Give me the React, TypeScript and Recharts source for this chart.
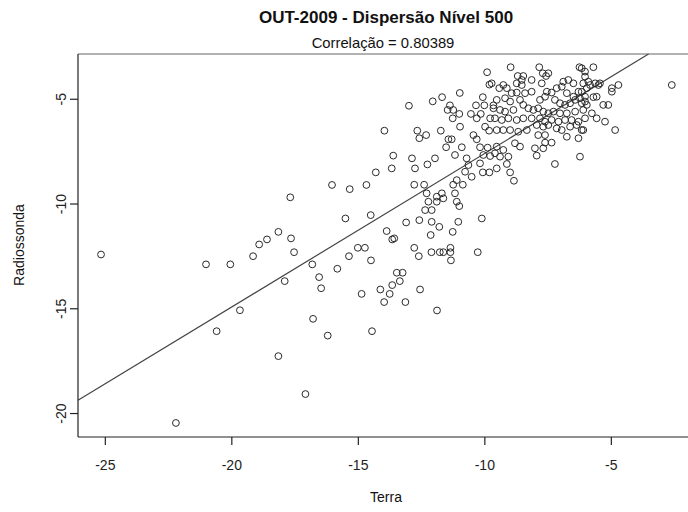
import React from 'react';
import { ScatterChart, Scatter, XAxis, YAxis, ReferenceLine } from 'recharts';

// Terra (x) and Radiossonda (y) readings, paired by index
const terra = [
  -8.98, -7.85, -7.71, -7.58, -7.49, -6.26, -6.04, -8.7, -8.48, -8.54, -8.74, -8.15, -7.75, -9.73, -9.27, -9.43,
  -9.13, -8.54, -6.9, -6.7, -6.5, -6.11, -5.97, -7.16, -6.96, -8.94, -8.74, -8.41, -8.15, -7.55, -7.36, -7.82,
  -7.62, -6.76, -6.5, -6.3, -9.53, -9.2, -9.0, -8.61, -8.48, -8.28, -8.08, -7.89, -7.23, -7.03, -6.83, -6.63,
  -6.43, -6.24, -6.04, -9.66, -9.4, -9.2, -8.87, -7.69, -7.49, -7.29, -7.03, -6.76, -6.43, -6.11, -9.6, -9.33,
  -9.07, -8.74, -8.48, -8.15, -7.82, -7.62, -7.36, -7.09, -6.83, -6.57, -6.3, -6.04, -9.53, -9.27, -9.0, -8.68,
  -8.34, -7.95, -7.69, -7.49, -7.16, -6.96, -6.63, -6.37, -6.11, -7.89, -7.62, -6.76, -6.3, -9.53, -9.27, -9.6,
  -8.81, -8.61, -7.62, -7.36, -8.02, -7.69, -6.24, -9.4, -9.07,
  -6.17, -5.71, -6.04, -5.91, -5.84, -6.17, -5.64, -5.51, -5.45, -4.98, -4.98, -4.72, -2.61, -6.04, -5.71, -5.58,
  -6.17, -5.97, -5.32, -5.12, -5.77, -5.58, -5.25, -6.17, -4.85, -7.95, -7.23,
  -9.91, -9.82, -10.99, -11.69, -12.06, -13.0, -10.08, -11.38, -10.35, -10.02, -9.66, -11.47, -11.25, -11.01,
  -10.55, -10.16, -11.27, -10.32, -9.79, -9.99, -9.83, -10.98, -12.67, -12.32, -11.74, -12.59, -11.44, -11.31,
  -10.45, -10.32, -11.53, -10.91, -10.19, -9.89, -12.88, -11.97, -11.18, -10.72, -10.06, -9.79,
  -13.97, -13.62, -13.68, -14.31, -16.04, -15.34, -14.68, -17.69, -15.51, -14.51, -13.11, -13.88, -13.58, -13.66,
  -18.16, -17.66,
  -12.76, -12.27, -10.65, -10.78, -10.52, -10.19, -10.08, -9.82, -9.53, -9.13, -9.0, -8.85, -12.79, -12.4, -12.3,
  -11.25, -10.87, -11.11, -11.18, -11.7, -11.9, -11.64, -12.23, -11.9, -11.11, -11.01, -12.36, -12.1, -12.59,
  -12.1, -11.8, -11.05, -10.12,
  -17.54, -17.91, -16.82, -16.55, -16.47, -15.83, -15.37, -15.02, -14.74, -14.5, -12.79, -12.61, -12.14, -11.27,
  -12.11, -11.78, -11.64, -11.36, -11.36, -11.34, -10.28, -13.48, -13.25, -13.36, -13.66, -13.76, -14.13, -14.87,
  -13.98, -13.14, -12.56, -11.89, -16.79, -16.21, -14.46, -17.09,
  -25.17, -21.02, -20.06, -19.16, -18.92, -18.61, -19.68, -20.6, -18.16, -22.21,
];

const radiossonda = [
  -3.47, -3.47, -3.76, -3.89, -3.76, -3.47, -3.68, -3.89, -3.89, -4.08, -4.24, -4.08, -4.24, -4.24, -4.32, -4.47,
  -4.47, -4.32, -4.16, -4.08, -4.24, -4.24, -4.47, -4.47, -4.4, -4.71, -4.68, -4.71, -4.64, -4.64, -4.68, -5.03,
  -4.88, -4.71, -4.88, -4.64, -5.03, -4.95, -5.11, -5.03, -5.27, -5.43, -5.51, -5.43, -5.03, -5.19, -5.27, -5.19,
  -5.03, -4.95, -5.11, -5.43, -5.51, -5.59, -5.51, -5.59, -5.67, -5.59, -5.67, -5.67, -5.59, -5.51, -5.91, -5.99,
  -5.91, -5.99, -5.91, -5.91, -5.91, -6.07, -5.99, -6.07, -5.99, -5.99, -6.07, -5.91, -6.47, -6.47, -6.47, -6.55,
  -6.47, -6.23, -6.31, -6.23, -6.39, -6.47, -6.31, -6.23, -6.47, -6.71, -6.71, -6.79, -6.86, -7.26, -7.42, -7.58,
  -7.1, -7.26, -7.07, -7.07, -7.34, -7.34, -7.74, -7.74, -7.74,
  -3.52, -3.47, -3.92, -4.16, -4.32, -4.64, -4.24, -4.32, -4.24, -4.47, -4.64, -4.32, -4.32, -4.88, -4.9, -4.88,
  -5.19, -5.27, -5.27, -5.27, -5.67, -5.91, -6.07, -6.47, -6.47, -7.69, -8.09,
  -3.71, -4.3, -4.7, -4.9, -5.1, -5.31, -4.9, -5.29, -5.29, -5.29, -5.29, -5.51, -5.51, -5.7,
  -5.7, -5.7, -5.91, -5.91, -5.91, -6.31, -6.5, -6.31, -6.5, -6.71, -6.5, -6.86, -6.91, -6.91,
  -6.71, -6.91, -7.29, -7.29, -7.29, -7.31, -7.82, -7.82, -7.66, -7.82, -7.66, -7.71,
  -6.5, -7.69, -8.3, -8.49, -9.09, -9.29, -9.09, -9.68, -10.69, -10.53, -10.88, -11.29, -11.64, -11.69,
  -11.33, -11.64,
  -8.3, -8.11, -8.14, -8.46, -8.7, -8.06, -8.49, -8.49, -8.3, -8.09, -8.49, -8.89, -9.08, -9.08, -9.49,
  -9.08, -9.08, -8.86, -9.49, -9.49, -9.65, -9.73, -9.89, -9.89, -9.89, -10.1, -10.29, -10.29, -10.77,
  -10.85, -11.09, -10.85, -10.69,
  -12.3, -13.68, -12.88, -13.49, -14.02, -13.09, -12.49, -12.09, -12.09, -12.69, -12.09, -12.49, -11.48, -11.33,
  -12.3, -12.3, -12.3, -12.3, -12.09, -12.69, -12.3, -13.28, -13.28, -13.68, -13.87, -14.29, -14.08, -14.29,
  -14.68, -14.68, -14.08, -15.08, -15.48, -16.28, -16.07, -19.07,
  -12.41, -12.88, -12.88, -12.49, -11.93, -11.69, -15.07, -16.07, -17.26, -20.45,
];

const xTicks = [-25, -20, -15, -10, -5];
const yTicks = [-20, -15, -10, -5];
const xDomain = [-26.08, -1.97];
const yDomain = [-21.12, -2.84];

// least squares line y = a + b x
const fitIntercept = -0.253;
const fitSlope = 0.733;

const title = 'OUT-2009 - Dispersão Nível 500';
const subtitle = 'Correlação = 0.80389';
const xLabel = 'Terra';
const yLabel = 'Radiossonda';

const font = '"Liberation Sans", Arial, Helvetica, sans-serif';

const points = terra.map((x, i) => ({ x, y: radiossonda[i] }));
const fitEndX = (yDomain[1] - fitIntercept) / fitSlope;
const fitSegment = [
  { x: xDomain[0], y: fitIntercept + fitSlope * xDomain[0] },
  { x: fitEndX, y: yDomain[1] },
];

const Ring = (props: any) => (
  <circle cx={props.cx} cy={props.cy} r={3.4} fill="none" stroke="#2a2a2a" strokeWidth={1} />
);

const XTick = (props: any) => (
  <text x={props.x} y={props.y} dy={21} textAnchor="middle" fontSize={14} fill="#222" fontFamily={font}>
    {props.payload.value}
  </text>
);

const YTick = (props: any) => (
  <text
    x={props.x}
    y={props.y}
    textAnchor="middle"
    fontSize={14}
    fill="#222"
    fontFamily={font}
    transform={`rotate(-90, ${props.x}, ${props.y})`}
  >
    {props.payload.value}
  </text>
);

export default function App() {
  return (
    <div style={{ position: 'absolute', left: 0, top: 0, width: 688, height: 512, background: '#fff', fontFamily: font, color: '#111' }}>
      <div style={{ position: 'absolute', left: 86, width: 600, top: 7, textAlign: 'center', fontSize: 17, fontWeight: 'bold', lineHeight: '22px' }}>
        {title}
      </div>
      <div style={{ position: 'absolute', left: 83, width: 600, top: 34, textAlign: 'center', fontSize: 14.8, lineHeight: '18px' }}>
        {subtitle}
      </div>
      <div style={{ position: 'absolute', left: 86, width: 600, top: 488, textAlign: 'center', fontSize: 14, lineHeight: '18px' }}>
        {xLabel}
      </div>
      <div
        style={{
          position: 'absolute', left: -81, width: 200, top: 236, textAlign: 'center', fontSize: 14, lineHeight: '18px',
          transform: 'rotate(-90deg)',
        }}
      >
        {yLabel}
      </div>
      <ScatterChart width={688} height={512} margin={{ top: 54, right: 0, bottom: 0, left: 0 }}>
        <XAxis
          type="number"
          dataKey="x"
          domain={xDomain}
          allowDataOverflow
          ticks={xTicks}
          interval={0}
          height={75}
          tickSize={8}
          tickMargin={4}
          stroke="#222"
          strokeWidth={1.2}
          tick={XTick}
        />
        <YAxis
          type="number"
          dataKey="y"
          domain={yDomain}
          allowDataOverflow
          ticks={yTicks}
          interval={0}
          width={78}
          tickSize={8}
          tickMargin={4}
          stroke="#222"
          strokeWidth={1.2}
          tick={YTick}
        />
        <ReferenceLine y={yDomain[1]} stroke="#666" strokeWidth={1.2} />
        <ReferenceLine segment={fitSegment} stroke="#444" strokeWidth={1.2} ifOverflow="visible" />
        <Scatter data={points} shape={Ring} isAnimationActive={false} />
      </ScatterChart>
    </div>
  );
}
